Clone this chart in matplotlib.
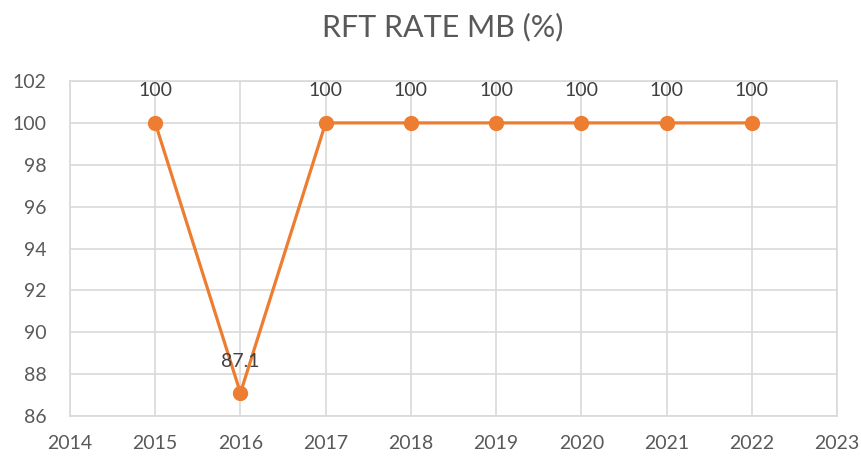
import matplotlib.pyplot as plt

years = [2015, 2016, 2017, 2018, 2019, 2020, 2021, 2022]
rft_rate = [100, 87.1, 100, 100, 100, 100, 100, 100]
labels = ["100", "87.1", "100", "100", "100", "100", "100", "100"]
x_ticks = list(range(2014, 2024))
y_ticks = list(range(86, 103, 2))


def main():
	plt.rcParams['font.family'] = ['Lato', 'DejaVu Sans']
	fig = plt.figure(figsize=(8.62, 4.59), dpi=100)
	ax = fig.add_axes([0.0812, 0.0937, 0.8898, 0.7298])

	grid_color = '#d9d9d9'
	ax.plot(years, rft_rate, color='#ed7d31', linewidth=2.3, marker='o',
		markersize=10, zorder=3, clip_on=False)
	for x, y, txt in zip(years, rft_rate, labels):
		ax.annotate(txt, (x, y), xytext=(0, 23), textcoords='offset points',
			ha='center', va='center', fontsize=14, color='#404040')

	ax.set_xlim(2014, 2023)
	ax.set_ylim(86, 102)
	ax.set_xticks(x_ticks)
	ax.set_yticks(y_ticks)
	ax.grid(True, color=grid_color, linewidth=1.2)
	ax.set_axisbelow(True)
	for side in ['left', 'bottom', 'right', 'top']:
		ax.spines[side].set_color(grid_color)
		ax.spines[side].set_linewidth(1.2)
	ax.tick_params(length=0, labelsize=14, labelcolor='#595959')
	ax.tick_params(axis='y', pad=17)
	ax.tick_params(axis='x', pad=14)

	fig.text(0.514, 0.94, "RFT RATE MB (%)", ha='center', va='center',
		fontsize=22, color='#595959')
	fig.savefig('out.png', dpi=100)


if __name__ == "__main__":
	main()
